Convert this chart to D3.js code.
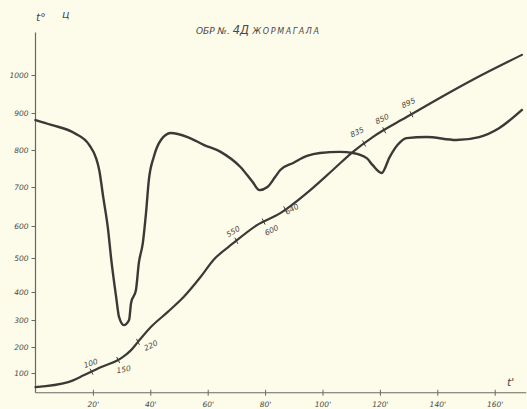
<!DOCTYPE html>
<html>
<head>
<meta charset="utf-8">
<script src="https://cdn.jsdelivr.net/npm/d3@7"></script>
<style>
  html, body { margin: 0; padding: 0; background: #fdfbea; }
  svg { display: block; }
  text { font-family: "DejaVu Sans", sans-serif; font-style: italic; fill: #4a4944; }
</style>
</head>
<body>
<svg id="chart"></svg>
<script>
// time in minutes, temperature / reading in the chart's own units
const xTicks = [20, 40, 60, 80, 100, 120, 140, 160];
const yTicks = [100, 200, 300, 400, 500, 600, 700, 800, 900, 1000];

// heating curve (temperature vs time)
const heatT = [0, 11.4, 17, 22.9, 28.8, 30.5, 33.3, 35.7, 40.2, 46.1, 51.6, 57.5, 62, 69, 77.3, 85.3, 94.6, 103.6, 110.6, 117.5, 129.3, 140.7, 152.2, 169.5];
const heatV = [46, 65, 92, 123, 150, 162, 188, 219, 274, 329, 382, 444, 494, 547, 603, 633, 685, 746, 795, 835, 889, 939, 987, 1053];

// differential curve
const diffT = [0, 5.5, 13.5, 18.7, 21.1, 22.2, 23.6, 25.3, 26.3, 28.1, 29.1, 30.8, 32.6, 33.3, 35, 36, 37.4, 38.5, 39.5, 41.2, 43.7, 47.1, 53, 58.6, 64.5, 71.4, 75.6, 78, 80.8, 83.5, 85.3, 89.8, 94.6, 99.1, 106.1, 110.6, 115.4, 117.5, 120.6, 123.4, 126.2, 129.3, 136.2, 146.6, 154.6, 161.5, 169.5];
const diffV = [881, 868, 846, 814, 778, 746, 674, 588, 503, 382, 311, 281, 300, 361, 406, 485, 547, 633, 719, 781, 827, 846, 835, 814, 795, 754, 714, 692, 700, 727, 746, 765, 784, 792, 795, 792, 778, 759, 738, 781, 814, 832, 835, 827, 835, 859, 908];

// temperature marks written along the heating curve
const markText = ["100", "150", "220", "550", "600", "640", "835", "850", "895"];
const markT    = [19.5, 28.8, 35.7, 70, 79.5, 87, 114.5, 121.5, 131];

const width = 527, height = 409;
const svg = d3.select("#chart").attr("width", width).attr("height", height);

const x = d3.scaleLinear().domain([0, 160]).range([35.5, 494.7]);
// hand-ruled axis: uneven spacing between the graduations
const y = d3.scaleLinear()
  .domain(yTicks)
  .range([373, 347, 320, 292, 258, 226, 187, 150, 113, 75]);

const yBase = 24, yTop = 1112, tEnd = 171;

// axes
const axisColor = "#6a6862";
svg.append("line")
  .attr("x1", x(0)).attr("x2", x(0))
  .attr("y1", y(yBase)).attr("y2", y(yTop))
  .attr("stroke", axisColor).attr("stroke-width", 1.2);
svg.append("line")
  .attr("x1", x(0)).attr("x2", x(tEnd))
  .attr("y1", y(yBase)).attr("y2", y(yBase))
  .attr("stroke", axisColor).attr("stroke-width", 1.2);

svg.append("g")
  .attr("transform", `translate(${x(0)},0)`)
  .call(d3.axisLeft(y).tickValues(yTicks).tickSize(4).tickPadding(3).tickFormat(d => d))
  .call(g => g.select(".domain").remove())
  .call(g => g.selectAll("line").attr("stroke", axisColor))
  .call(g => g.selectAll("text").attr("font-size", 7.5).attr("fill", "#55534d").style("font-family", null));

svg.append("g")
  .attr("transform", `translate(0,${y(yBase)})`)
  .call(d3.axisBottom(x).tickValues(xTicks).tickSize(3).tickPadding(6).tickFormat(d => d + "'"))
  .call(g => g.select(".domain").remove())
  .call(g => g.selectAll("line").attr("stroke", axisColor).attr("y1", -3))
  .call(g => g.selectAll("text").attr("font-size", 7.5).attr("fill", "#55534d").style("font-family", null));

// axis titles
svg.append("text").attr("x", 36).attr("y", 21).attr("font-size", 11).text("t°");
svg.append("text").attr("x", 62).attr("y", 18).attr("font-size", 11).text("ц");
svg.append("text").attr("x", 507).attr("y", 386).attr("font-size", 11).text("t'");

// title
const title = svg.append("text").attr("x", 196).attr("y", 34);
title.append("tspan").attr("font-size", 9).text("ОБР №. ");
title.append("tspan").attr("font-size", 11.5).text("4Д ");
title.append("tspan").attr("font-size", 8).attr("letter-spacing", 1.6).text("ЖОРМАГАЛА");

// curves
const line = d3.line().curve(d3.curveMonotoneX);
const heat = heatT.map((t, i) => [x(t), y(heatV[i])]);
const diff = diffT.map((t, i) => [x(t), y(diffV[i])]);

svg.append("path")
  .attr("d", line(diff))
  .attr("fill", "none").attr("stroke", "#3a3935").attr("stroke-width", 2.4)
  .attr("stroke-linejoin", "round").attr("stroke-linecap", "round");

svg.append("path")
  .attr("d", line(heat))
  .attr("fill", "none").attr("stroke", "#3a3935").attr("stroke-width", 2.2)
  .attr("stroke-linejoin", "round").attr("stroke-linecap", "round");

// marks on the heating curve
const heatAt = t => {
  const yv = d3.scaleLinear().domain(heatT).range(heatV);
  return [x(t), y(yv(t))];
};
// label placement relative to the curve (above / below)
const place = {
  "100": [0, -6, -18], "150": [6, 12, -10], "220": [14, 6, -25],
  "550": [-2, -7, -30], "600": [9, 11, -25], "640": [8, 2, -30],
  "835": [-6, -9, -25], "850": [-1, -9, -25], "895": [-2, -9, -25]
};
markText.forEach((m, i) => {
  const [px, py] = heatAt(markT[i]);
  const [dx, dy, rot] = place[m];
  svg.append("line")
    .attr("x1", px - 1.5).attr("x2", px + 1.5)
    .attr("y1", py - 3).attr("y2", py + 3)
    .attr("stroke", "#3a3935").attr("stroke-width", 1);
  svg.append("text")
    .attr("transform", `translate(${px + dx},${py + dy}) rotate(${rot})`)
    .attr("text-anchor", "middle")
    .attr("font-size", 7.5)
    .attr("fill", "#3e3d39")
    .text(m);
});
</script>
</body>
</html>
